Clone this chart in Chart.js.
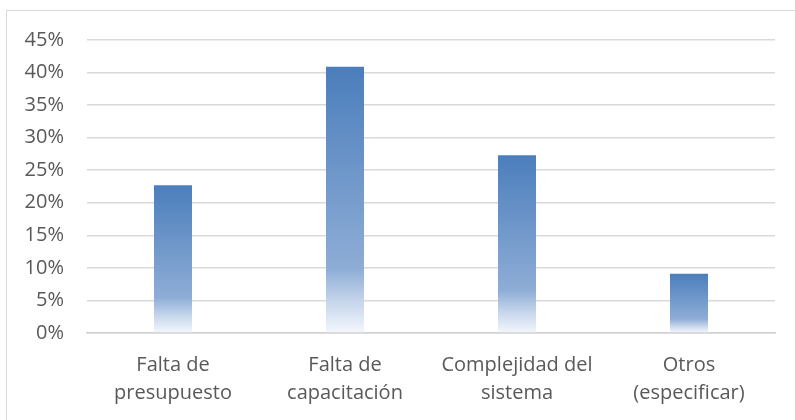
<!DOCTYPE html>
<html>
<head>
<meta charset="utf-8">
<script src="https://cdn.jsdelivr.net/npm/chart.js@4/dist/chart.umd.min.js"></script>
<style>
  html, body { margin: 0; padding: 0; background: #ffffff; }
  #wrap { position: relative; width: 795px; height: 420px; overflow: hidden; }
  #frame { position: absolute; left: 6px; top: 10px; width: 820px; height: 440px; border: 1.5px solid #d9d9d9; box-sizing: border-box; }
  canvas { position: absolute; left: 0; top: 0; }
</style>
</head>
<body>
<div id="wrap">
  <div id="frame"></div>
  <canvas id="c" width="795" height="420"></canvas>
</div>
<script>
const categories = [
  ["Falta de", "presupuesto"],
  ["Falta de", "capacitación"],
  ["Complejidad del", "sistema"],
  ["Otros", "(especificar)"]
];
const values = [22.7, 40.9, 27.3, 9.1];
const yTickStep = 5;
const yMax = 45;

const FONT = "'Open Sans', 'Noto Sans', sans-serif";

function barGradient(ctx) {
  const chart = ctx.chart;
  const area = chart.chartArea;
  if (!area) return '#4f81bd';
  const y = chart.scales.y;
  const top = y.getPixelForValue(ctx.raw);
  const bot = y.getPixelForValue(0);
  if (!isFinite(top) || !isFinite(bot) || top === bot) return '#4f81bd';
  const g = chart.ctx.createLinearGradient(0, top, 0, bot);
  g.addColorStop(0, '#4b7ebc');
  g.addColorStop(0.76, '#8eadd6');
  g.addColorStop(0.88, '#c5d5eb');
  g.addColorStop(1, '#f4f7fc');
  return g;
}

new Chart(document.getElementById('c'), {
  type: 'bar',
  data: {
    labels: categories,
    datasets: [{
      data: values,
      backgroundColor: barGradient,
      borderWidth: 0,
      categoryPercentage: 1,
      barPercentage: 0.221
    }]
  },
  options: {
    responsive: false,
    animation: false,
    devicePixelRatio: 1,
    layout: { padding: { top: 40, right: 20, left: 0, bottom: 0 } },
    plugins: { legend: { display: false }, tooltip: { enabled: false } },
    scales: {
      x: {
        grid: { display: false, drawTicks: false },
        border: { display: true, color: '#d0d0d0', width: 1.5 },
        ticks: {
          color: '#595959',
          font: { family: FONT, size: 20, lineHeight: 1.42 },
          padding: 18,
          maxRotation: 0,
          autoSkip: false
        },
        afterFit: s => { s.height = 87; }
      },
      y: {
        min: 0,
        max: yMax,
        grid: { color: '#d9d9d9', lineWidth: 1.5, drawTicks: false },
        border: { display: false },
        ticks: {
          stepSize: yTickStep,
          color: '#595959',
          font: { family: FONT, size: 20 },
          padding: 23,
          callback: v => v + '%'
        },
        afterFit: s => { s.width = 87; }
      }
    }
  }
});
</script>
</body>
</html>
